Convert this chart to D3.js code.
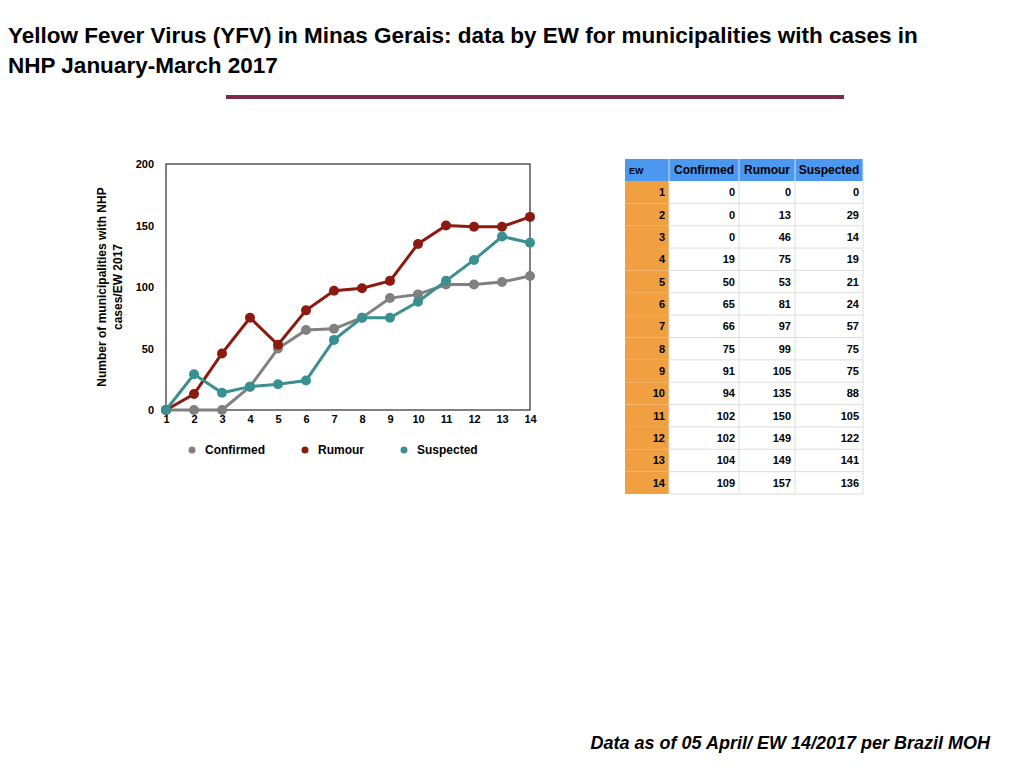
<!DOCTYPE html><html><head><meta charset="utf-8">
<script src="https://cdn.jsdelivr.net/npm/d3@7"></script>
<style>body{margin:0;background:#fff;font-family:"Liberation Sans",Arial,sans-serif}</style></head><body>
<svg id="c" width="1024" height="768"></svg>
<script>
const weeks=[1,2,3,4,5,6,7,8,9,10,11,12,13,14];
const confirmed=[0,0,0,19,50,65,66,75,91,94,102,102,104,109];
const rumour=[0,13,46,75,53,81,97,99,105,135,150,149,149,157];
const suspected=[0,29,14,19,21,24,57,75,75,88,105,122,141,136];
const yTicks=[0,50,100,150,200];
const seriesNames=["Confirmed","Rumour","Suspected"];
const colors=["#808080","#8b1a10","#3a9090"];
const seriesData=[confirmed,rumour,suspected];

const svg=d3.select("#c");
svg.append("text").attr("x",8).attr("y",43).attr("font-size",22.5).attr("font-weight","bold").text("Yellow Fever Virus (YFV) in Minas Gerais: data by EW for municipalities with cases in");
svg.append("text").attr("x",8).attr("y",73).attr("font-size",22.5).attr("font-weight","bold").text("NHP January-March 2017");
svg.append("rect").attr("x",226).attr("y",95).attr("width",618).attr("height",4).attr("fill","#7b2a4c");

const x=d3.scaleLinear().domain([1,14]).range([166,530]);
const y=d3.scaleLinear().domain([0,200]).range([410,164]);
svg.append("rect").attr("x",166).attr("y",164).attr("width",364).attr("height",246).attr("fill","none").attr("stroke","#000").attr("stroke-width",1);
const gx=svg.append("g").attr("transform","translate(0,410)").call(d3.axisBottom(x).tickValues(weeks).tickFormat(d3.format("d")).tickSize(0).tickPadding(5));
const gy=svg.append("g").attr("transform","translate(166,0)").call(d3.axisLeft(y).tickValues(yTicks).tickSize(0).tickPadding(12));
[gx,gy].forEach(g=>{g.select(".domain").remove();g.selectAll("text").attr("font-size",11).attr("font-weight","bold").attr("font-family","Liberation Sans, Arial");});
svg.append("text").attr("transform","translate(106,287) rotate(-90)").attr("text-anchor","middle").attr("font-size",12).attr("font-weight","bold").text("Number of municipalities with NHP");
svg.append("text").attr("transform","translate(122,287) rotate(-90)").attr("text-anchor","middle").attr("font-size",12).attr("font-weight","bold").text("cases/EW 2017");

const line=d3.line().x((d,i)=>x(weeks[i])).y(d=>y(d));
seriesData.forEach((s,k)=>{
 svg.append("path").attr("d",line(s)).attr("fill","none").attr("stroke",colors[k]).attr("stroke-width",3);
 svg.selectAll(null).data(s).enter().append("circle").attr("cx",(d,i)=>x(weeks[i])).attr("cy",d=>y(d)).attr("r",5).attr("fill",colors[k]);
});
const lx=[192,305,404];
seriesNames.forEach((n,k)=>{
 svg.append("circle").attr("cx",lx[k]).attr("cy",450).attr("r",3.5).attr("fill",colors[k]);
 svg.append("text").attr("x",lx[k]+13).attr("y",454).attr("font-size",12).attr("font-weight","bold").text(n);
});

// table
const cols=[625,669,739,795,863];
const tTop=159,hh=22,rh=(494-181)/14;
const headers=["EW"].concat(seriesNames);
svg.append("rect").attr("x",625).attr("y",tTop).attr("width",238).attr("height",hh).attr("fill","#4a98f0");
headers.forEach((h,j)=>{
 svg.append("text").attr("x",j==0?629:(cols[j]+cols[j+1])/2).attr("y",tTop+15).attr("text-anchor",j==0?"start":"middle").attr("font-size",j==0?9:12).attr("font-weight","bold").text(h);
});
weeks.forEach((w,i)=>{
 const ry=181+i*rh;
 svg.append("rect").attr("x",625).attr("y",ry).attr("width",44).attr("height",rh).attr("fill","#f0a040");
 svg.append("line").attr("x1",669).attr("x2",863).attr("y1",ry+rh).attr("y2",ry+rh).attr("stroke","#ddd");
 const vals=[w,confirmed[i],rumour[i],suspected[i]];
 vals.forEach((v,j)=>svg.append("text").attr("x",cols[j+1]-4).attr("y",ry+rh/2+4).attr("text-anchor","end").attr("font-size",11).attr("font-weight","bold").text(v));
});
[669,739,795,863].forEach(c=>svg.append("line").attr("x1",c).attr("x2",c).attr("y1",tTop).attr("y2",494).attr("stroke","#ddd"));

svg.append("text").attr("x",990).attr("y",749).attr("text-anchor","end").attr("font-size",18).attr("font-weight","bold").attr("font-style","italic").text("Data as of 05 April/ EW 14/2017 per Brazil MOH");
</script></body></html>
